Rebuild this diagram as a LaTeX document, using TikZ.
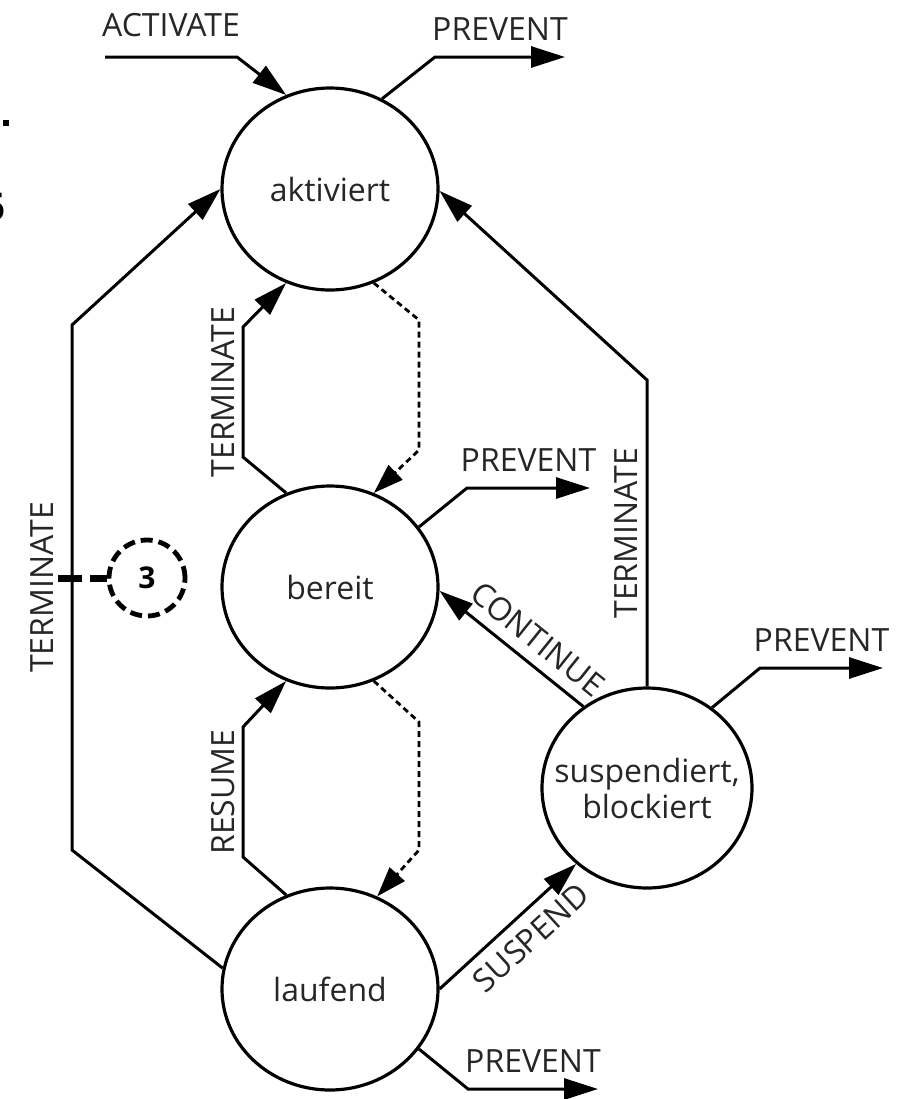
\documentclass[tikz,border=0pt]{standalone}
\usepackage{fontspec}
\setmainfont{Open Sans}
\usepackage{tikz}
\usetikzlibrary{shapes.geometric, arrows.meta}
\tikzstyle{state} = [ellipse, minimum width=108pt, minimum height=101pt, inner sep=0pt, draw=black, line width=1.6pt, text=black!85, align=center, font=\fontsize{16}{18}\selectfont]
\tikzstyle{lbl} = [text=black!85, font=\fontsize{16}{18}\selectfont]
\tikzstyle{arrow} = [line width=1.5pt, -{Triangle[length=17pt, width=10.5pt]}]
\tikzstyle{dasharrow} = [line width=1.4pt, dash pattern=on 3pt off 2pt, -{Triangle[length=15pt, width=10pt]}]
\tikzstyle{marker} = [circle, draw=black, line width=2.4pt, dash pattern=on 6pt off 3pt, minimum size=38pt, inner sep=0pt, font=\bfseries\fontsize{15}{18}\selectfont]

\begin{document}
\begin{tikzpicture}[x=0.5pt, y=-0.5pt, node distance=199pt]
    \useasboundingbox (0,0) rectangle (922,1099);

    % Nodes
    \node (akt) [state] at (330,189) {aktiviert};
    \node (ber) [state, below of=akt] {bereit};
    \node (lauf) [state, below of=ber, yshift=-2pt] {laufend};
    \node (susp) [state, inner sep=-25pt, minimum width=105pt, minimum height=100pt] at (647,788) {suspendiert,\\blockiert};
    \node (three) [marker] at (147,578) {3};

    % free ends
    \coordinate (actin) at (105,57);
    \coordinate (prevA) at (565,57);
    \coordinate (prevB) at (590,488);
    \coordinate (prevC) at (883,668);
    \coordinate (prevD) at (598,1089);
    \coordinate (tick) at (58,578);

    % Arrows
    \draw [arrow] (actin) -- node[lbl, above=6pt] {ACTIVATE} (237,57) -- (akt.115);
    \draw [arrow] (akt.60) -- (435,57) -- node[lbl, above=4pt] {PREVENT} (prevA);
    \draw [arrow] (lauf.169) -- (72,850) -- node[lbl, sloped, above=5pt] {TERMINATE} (72,325) -- (akt.west);
    \draw [arrow] (ber.115) -- (243,457) -- node[lbl, sloped, above=0pt] {TERMINATE} (243,327) -- (akt.-115);
    \draw [dasharrow] (akt.-65) -- (419,320) -- (419,450) -- (ber.65);
    \draw [arrow] (lauf.115) -- (243,857) -- node[lbl, sloped, above=0pt] {RESUME} (243,727) -- (ber.-115);
    \draw [dasharrow] (ber.-65) -- (419,722) -- (419,850) -- (lauf.63);
    \draw [arrow] (ber.34) -- (467,488) -- node[lbl, above=4pt] {PREVENT} (prevB);
    \draw [arrow] (susp.128) -- node[lbl, sloped, above=2pt, pos=0.42] {CONTINUE} (ber.-2);
    \draw [arrow] (susp.north) -- node[lbl, sloped, above=0.5pt] {TERMINATE} (647,380) -- (akt.-1);
    \draw [arrow] (susp.51) -- (760,668) -- node[lbl, above=4pt] {PREVENT} (prevC);
    \draw [arrow] (lauf.east) -- node[lbl, sloped, below=2pt, pos=0.55] {SUSPEND} (susp.-133);
    \draw [arrow] (lauf.-34) -- (468,1089) -- node[lbl, above=4pt] {PREVENT} (prevD);

    % marker link
    \draw [line width=3.5pt, dash pattern=on 12pt off 4pt] (tick) -- (three.west);

    % cut-off bits at the left edge
    \fill (3,120) rectangle (9,126);
    \node (six) [anchor=east, inner sep=0pt, font=\bfseries\fontsize{19}{22}\selectfont] at (6,207) {6};

\end{tikzpicture}
\end{document}
